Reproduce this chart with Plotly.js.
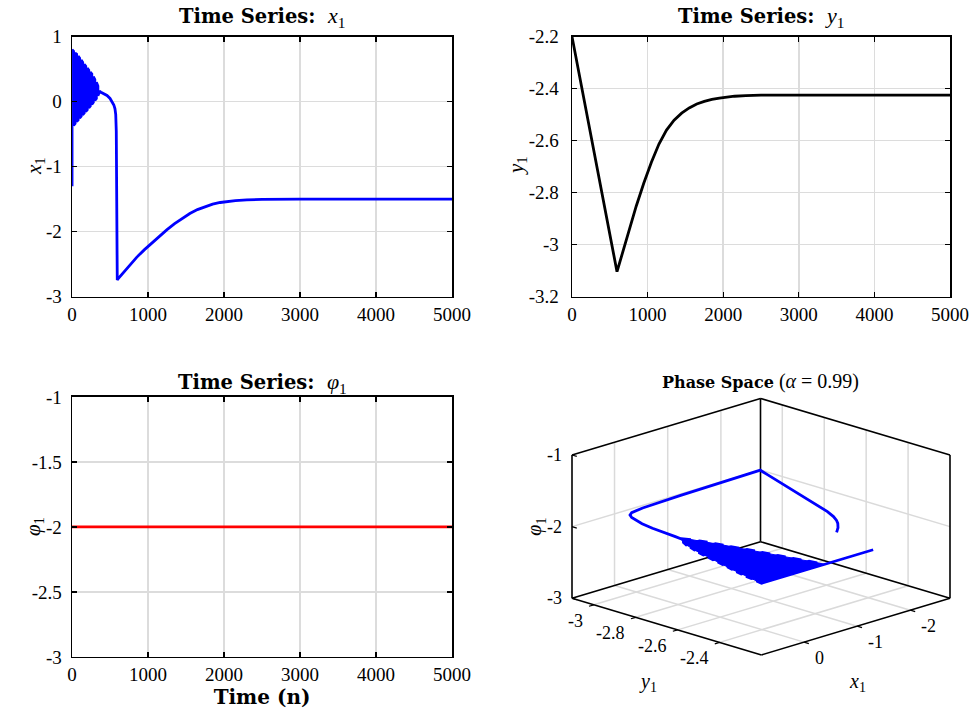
<!DOCTYPE html>
<html>
<head>
<meta charset="utf-8">
<script src="https://cdn.plot.ly/plotly-3.0.1.min.js"></script>
<style>html,body{margin:0;padding:0;background:#fff;}#chart{width:971px;height:718px;}</style>
</head>
<body>
<div id="chart"></div>
<script>
// ---------------- data ----------------
const start_n = [0];
const start_x = [-1.3];
const start_y = [-2.2];

// oscillating phase: envelope of x1 (alternating samples), y1 on its straight descent
const osc_n     = [0, 20, 40, 60, 80, 100, 120, 140, 160, 180, 200, 220, 240, 260, 280, 300, 320, 340, 360];
const osc_upper = [0.80, 0.775, 0.75, 0.73, 0.70, 0.67, 0.64, 0.605, 0.575, 0.545, 0.515, 0.485, 0.455, 0.425, 0.385, 0.34, 0.30, 0.24, 0.16];
const osc_lower = [-0.39, -0.365, -0.335, -0.305, -0.28, -0.25, -0.225, -0.20, -0.175, -0.15, -0.125, -0.095, -0.065, -0.04, -0.01, 0.02, 0.05, 0.09, 0.15];
const osc_y     = [-2.2, -2.230, -2.261, -2.291, -2.322, -2.352, -2.382, -2.413, -2.443, -2.473, -2.504, -2.534, -2.565, -2.595, -2.625, -2.656, -2.686, -2.717, -2.747];

// smooth part before the collapse
const pre_n = [380, 420, 460, 500, 530, 550, 565, 575, 582, 588, 595];
const pre_x = [0.145, 0.125, 0.095, 0.05, 0.0, -0.05, -0.11, -0.2, -0.45, -1.2, -2.743];
const pre_y = [-2.777, -2.838, -2.899, -2.960, -3.005, -3.035, -3.058, -3.073, -3.084, -3.093, -3.104];

// recovery to the fixed point
const post_n = [605, 650, 700, 760, 850, 950, 1050, 1150, 1250, 1350, 1450, 1550, 1650, 1750, 1850, 1950, 2050, 2150, 2300, 2500, 3000, 4000, 5000];
const post_x = [-2.725, -2.662, -2.593, -2.512, -2.395, -2.28, -2.172, -2.068, -1.969, -1.877, -1.794, -1.721, -1.66, -1.612, -1.576, -1.551, -1.533, -1.521, -1.51, -1.503, -1.50, -1.50, -1.50];
const post_y = [-3.094, -3.048, -2.996, -2.935, -2.851, -2.763, -2.683, -2.613, -2.559, -2.521, -2.494, -2.474, -2.459, -2.449, -2.441, -2.436, -2.432, -2.429, -2.427, -2.425, -2.425, -2.425, -2.425];

// phi1 is constant
const phi_n = [0, 5000];
const phi_v = [-2, -2];

// tick labels
const n_ticks = [0, 1000, 2000, 3000, 4000, 5000];
const n_tick_text = ['0', '1000', '2000', '3000', '4000', '5000'];
const x1_ticks = [-3, -2, -1, 0, 1];
const x1_tick_text = ['-3', '-2', '-1', '0', '1'];
const y1_ticks = [-3.2, -3, -2.8, -2.6, -2.4, -2.2];
const y1_tick_text = ['-3.2', '-3', '-2.8', '-2.6', '-2.4', '-2.2'];
const phi_ticks = [-3, -2.5, -2, -1.5, -1];
const phi_tick_text = ['-3', '-2.5', '-2', '-1.5', '-1'];
const ps_x_ticks = [-2, -1, 0];
const ps_x_text = ['-2', '-1', '0'];
const ps_y_ticks = [-3, -2.8, -2.6, -2.4];
const ps_y_text = ['-3', '-2.8', '-2.6', '-2.4'];
const ps_z_ticks = [-3, -2, -1];
const ps_z_text = ['-3', '-2', '-1'];
const ps_x_range = [-2.745, 0.80];
const ps_y_range = [-3.104, -2.2];
const ps_z_range = [-3, -1];

// ---------------- assemble trajectory ----------------
function phiAt(n) {
  for (let i = 0; i < phi_n.length - 1; i++) {
    if (n >= phi_n[i] && n <= phi_n[i + 1]) {
      const t = (n - phi_n[i]) / (phi_n[i + 1] - phi_n[i]);
      return phi_v[i] + t * (phi_v[i + 1] - phi_v[i]);
    }
  }
  return phi_v[phi_v.length - 1];
}
const tn = [], tx = [], ty = [];
function add(n, x, y) { tn.push(n); tx.push(x); ty.push(y); }
start_n.forEach((n, i) => add(n, start_x[i], start_y[i]));
osc_n.forEach((n, i) => {
  if (i % 2 === 0) { add(n, osc_lower[i], osc_y[i]); add(n, osc_upper[i], osc_y[i]); }
  else { add(n, osc_upper[i], osc_y[i]); add(n, osc_lower[i], osc_y[i]); }
});
pre_n.forEach((n, i) => add(n, pre_x[i], pre_y[i]));
post_n.forEach((n, i) => add(n, post_x[i], post_y[i]));
const tz = tn.map(phiAt);

const yn = [].concat(start_n, osc_n.slice(1), pre_n, post_n);
const yv = [].concat(start_y, osc_y.slice(1), pre_y, post_y);

// ---------------- 3D view: orthographic projection (MATLAB-like view) ----------------
const VIEW = { bx: 760.5, by: 541.7, ux: -188.5, uy: 56.6, vx: 189.5, vy: 56.6, wz: -143.3 };
function proj(x, y, z) {
  const u = (x - ps_x_range[0]) / (ps_x_range[1] - ps_x_range[0]);
  const v = (y - ps_y_range[0]) / (ps_y_range[1] - ps_y_range[0]);
  const w = (z - ps_z_range[0]) / (ps_z_range[1] - ps_z_range[0]);
  return [VIEW.bx + VIEW.ux * u + VIEW.vx * v, VIEW.by + VIEW.uy * u + VIEW.vy * v + VIEW.wz * w];
}
function segs(list) {
  const X = [], Y = [];
  list.forEach(s => { const a = proj(...s[0]), b = proj(...s[1]); X.push(a[0], b[0], null); Y.push(a[1], b[1], null); });
  return { X, Y };
}
const [x0, x1] = ps_x_range, [y0, y1] = ps_y_range, [z0, z1] = ps_z_range;
const boxSegs = segs([
  [[x0, y0, z0], [x1, y0, z0]], [[x0, y0, z0], [x0, y1, z0]], [[x1, y0, z0], [x1, y1, z0]], [[x0, y1, z0], [x1, y1, z0]],
  [[x0, y0, z0], [x0, y0, z1]], [[x1, y0, z0], [x1, y0, z1]], [[x0, y1, z0], [x0, y1, z1]],
  [[x0, y0, z1], [x1, y0, z1]], [[x0, y0, z1], [x0, y1, z1]]
]);
const gridList = [];
ps_x_ticks.forEach(t => { gridList.push([[t, y0, z0], [t, y0, z1]]); gridList.push([[t, y0, z0], [t, y1, z0]]); });
ps_y_ticks.forEach(t => { gridList.push([[x0, t, z0], [x0, t, z1]]); gridList.push([[x0, t, z0], [x1, t, z0]]); });
ps_z_ticks.forEach(t => { if (t > z0 && t < z1) { gridList.push([[x0, y0, t], [x1, y0, t]]); gridList.push([[x0, y0, t], [x0, y1, t]]); } });
const gridSegs = segs(gridList);

const uLen = Math.hypot(VIEW.ux, VIEW.uy), vLen = Math.hypot(VIEW.vx, VIEW.vy);
const du = [VIEW.ux / uLen, VIEW.uy / uLen], dv = [VIEW.vx / vLen, VIEW.vy / vLen];
const tkX = [], tkY = [], annos3 = [];
const LBL = { family: 'Liberation Serif, serif', size: 18, color: '#000' };
ps_y_ticks.forEach((t, i) => {
  const p = proj(x1, t, z0);
  tkX.push(p[0], p[0] + du[0] * 5, null); tkY.push(p[1], p[1] + du[1] * 5, null);
  annos3.push({ xref: 'x4', yref: 'y4', x: p[0] - 9, y: p[1] + 16, xanchor: 'right', yanchor: 'middle', showarrow: false, text: ps_y_text[i], font: LBL });
});
ps_x_ticks.forEach((t, i) => {
  const p = proj(t, y1, z0);
  tkX.push(p[0], p[0] + dv[0] * 5, null); tkY.push(p[1], p[1] + dv[1] * 5, null);
  annos3.push({ xref: 'x4', yref: 'y4', x: p[0] + 9, y: p[1] + 16, xanchor: 'left', yanchor: 'middle', showarrow: false, text: ps_x_text[i], font: LBL });
});
ps_z_ticks.forEach((t, i) => {
  const p = proj(x1, y0, t);
  tkX.push(p[0], p[0] + dv[0] * 5, null); tkY.push(p[1], p[1] + dv[1] * 5, null);
  annos3.push({ xref: 'x4', yref: 'y4', x: p[0] - 8, y: p[1], xanchor: 'right', yanchor: 'middle', showarrow: false, text: ps_z_text[i], font: LBL });
});
const midY = proj(x1, (y0 + y1) / 2, z0), midX = proj((x0 + x1) / 2, y1, z0), midZ = proj(x1, y0, (z0 + z1) / 2);
const AXL = { family: 'Liberation Serif, serif', size: 20, color: '#000' };
annos3.push({ xref: 'x4', yref: 'y4', x: midY[0] - 19, y: midY[1] + 56, xanchor: 'center', yanchor: 'middle', showarrow: false, text: '<i>y</i><sub>1</sub>', font: AXL });
annos3.push({ xref: 'x4', yref: 'y4', x: midX[0] + 2, y: midX[1] + 56, xanchor: 'center', yanchor: 'middle', showarrow: false, text: '<i>x</i><sub>1</sub>', font: AXL });
annos3.push({ xref: 'x4', yref: 'y4', x: midZ[0] - 36, y: midZ[1], xanchor: 'center', yanchor: 'middle', textangle: -90, showarrow: false, text: '<i>φ</i><sub>1</sub>', font: AXL });

const trajP = tx.map((x, i) => proj(x, ty[i], tz[i]));
const wedge = [];
osc_n.forEach((n, i) => wedge.push(proj(osc_upper[i], osc_y[i], phiAt(n))));
for (let i = osc_n.length - 1; i >= 0; i--) wedge.push(proj(osc_lower[i], osc_y[i], phiAt(osc_n[i])));

const FONT = 'Liberation Serif, Times New Roman, serif';
const BOLD = 'DejaVu Serif, serif';

const traces = [
  { type: 'scatter', mode: 'lines', x: tn, y: tx, xaxis: 'x', yaxis: 'y',
    line: { color: '#0000ff', width: 2.8 }, hoverinfo: 'skip' },
  { type: 'scatter', mode: 'lines', x: yn, y: yv, xaxis: 'x2', yaxis: 'y2',
    line: { color: '#000000', width: 2.8 }, hoverinfo: 'skip' },
  { type: 'scatter', mode: 'lines', x: phi_n, y: phi_v, xaxis: 'x3', yaxis: 'y3',
    line: { color: '#ff0000', width: 2.8 }, hoverinfo: 'skip' },
  { type: 'scatter', mode: 'lines', x: gridSegs.X, y: gridSegs.Y, xaxis: 'x4', yaxis: 'y4',
    line: { color: '#dadada', width: 1.5 }, hoverinfo: 'skip' },
  { type: 'scatter', mode: 'lines', x: boxSegs.X, y: boxSegs.Y, xaxis: 'x4', yaxis: 'y4',
    line: { color: '#000', width: 1.6 }, hoverinfo: 'skip' },
  { type: 'scatter', mode: 'lines', x: tkX, y: tkY, xaxis: 'x4', yaxis: 'y4',
    line: { color: '#000', width: 1.2 }, hoverinfo: 'skip' },
  { type: 'scatter', mode: 'lines', x: wedge.map(p => p[0]), y: wedge.map(p => p[1]), xaxis: 'x4', yaxis: 'y4',
    fill: 'toself', fillcolor: '#0000ff', line: { color: '#0000ff', width: 1 }, hoverinfo: 'skip' },
  { type: 'scatter', mode: 'lines', x: trajP.map(p => p[0]), y: trajP.map(p => p[1]), xaxis: 'x4', yaxis: 'y4',
    line: { color: '#0000ff', width: 2.8 }, hoverinfo: 'skip' }
];

const ax = {
  showline: true, linecolor: '#000', linewidth: 1.5, mirror: 'ticks',
  ticks: 'inside', ticklen: 5, tickwidth: 1.2, tickcolor: '#000',
  showgrid: true, gridcolor: '#dcdcdc', gridwidth: 1.5, zeroline: false,
  tickfont: { family: FONT, size: 19, color: '#000' }, tickmode: 'array'
};
function A(o) { return Object.assign({}, ax, o); }
const titleFont = { family: FONT, size: 21, color: '#000' };

const layout = {
  width: 971, height: 718,
  margin: { l: 0, r: 0, t: 0, b: 0 },
  paper_bgcolor: '#fff', plot_bgcolor: 'rgba(0,0,0,0)',
  showlegend: false,
  font: { family: FONT, color: '#000', size: 19 },
  xaxis: A({ domain: [0.0742, 0.4655], range: [0, 5000], tickvals: n_ticks, ticktext: n_tick_text, anchor: 'y' }),
  yaxis: A({ domain: [0.5868, 0.9489], range: [-3, 1], tickvals: x1_ticks, ticktext: x1_tick_text, anchor: 'x', ticklabelstandoff: 5 }),
  xaxis2: A({ domain: [0.5891, 0.9784], range: [0, 5000], tickvals: n_ticks, ticktext: n_tick_text, anchor: 'y2' }),
  yaxis2: A({ domain: [0.5868, 0.9489], range: [-3.2, -2.2], tickvals: y1_ticks, ticktext: y1_tick_text, anchor: 'x2', ticklabelstandoff: 8 }),
  xaxis3: A({ domain: [0.0742, 0.4655], range: [0, 5000], tickvals: n_ticks, ticktext: n_tick_text, anchor: 'y3',
    title: { text: '<b>Time (n)</b>', font: { family: BOLD, size: 20, color: '#000' }, standoff: 4 } }),
  yaxis3: A({ domain: [0.0850, 0.4471], range: [-3, -1], tickvals: phi_ticks, ticktext: phi_tick_text, anchor: 'x3', ticklabelstandoff: 5 }),
  xaxis4: { domain: [530 / 971, 1], range: [530, 971], visible: false, fixedrange: true, anchor: 'y4' },
  yaxis4: { domain: [0, 330 / 718], range: [718, 388], visible: false, fixedrange: true, anchor: 'x4' },
  annotations: [
    { xref: 'paper', yref: 'paper', x: 262 / 971, y: 1 - 17 / 718, xanchor: 'center', yanchor: 'middle', showarrow: false,
      text: '<b>Time Series:</b>  <span style="font-family:Liberation Serif;font-size:22px"><i>x</i><sub>1</sub></span>', font: { family: BOLD, size: 19.5, color: '#000' } },
    { xref: 'paper', yref: 'paper', x: 761 / 971, y: 1 - 17 / 718, xanchor: 'center', yanchor: 'middle', showarrow: false,
      text: '<b>Time Series:</b>  <span style="font-family:Liberation Serif;font-size:22px"><i>y</i><sub>1</sub></span>', font: { family: BOLD, size: 19.5, color: '#000' } },
    { xref: 'paper', yref: 'paper', x: 262 / 971, y: 1 - 383 / 718, xanchor: 'center', yanchor: 'middle', showarrow: false,
      text: '<b>Time Series:</b>  <span style="font-family:Liberation Serif;font-size:22px"><i>φ</i><sub>1</sub></span>', font: { family: BOLD, size: 19.5, color: '#000' } },
    { xref: 'paper', yref: 'paper', x: 760 / 971, y: 1 - 381 / 718, xanchor: 'center', yanchor: 'middle', showarrow: false,
      text: '<b>Phase Space</b> <span style="font-family:Liberation Serif;font-size:20px">(<i>α</i> = 0.99)</span>', font: { family: BOLD, size: 16, color: '#000' } },
    { xref: 'paper', yref: 'paper', x: 35 / 971, y: 1 - 166 / 718, xanchor: 'center', yanchor: 'middle', textangle: -90, showarrow: false,
      text: '<i>x</i><sub>1</sub>', font: titleFont },
    { xref: 'paper', yref: 'paper', x: 517 / 971, y: 1 - 166 / 718, xanchor: 'center', yanchor: 'middle', textangle: -90, showarrow: false,
      text: '<i>y</i><sub>1</sub>', font: titleFont },
    { xref: 'paper', yref: 'paper', x: 34 / 971, y: 1 - 527 / 718, xanchor: 'center', yanchor: 'middle', textangle: -90, showarrow: false,
      text: '<i>φ</i><sub>1</sub>', font: titleFont }
  ].concat(annos3)
};

Plotly.newPlot('chart', traces, layout, { displayModeBar: false, staticPlot: true });
</script>
</body>
</html>
